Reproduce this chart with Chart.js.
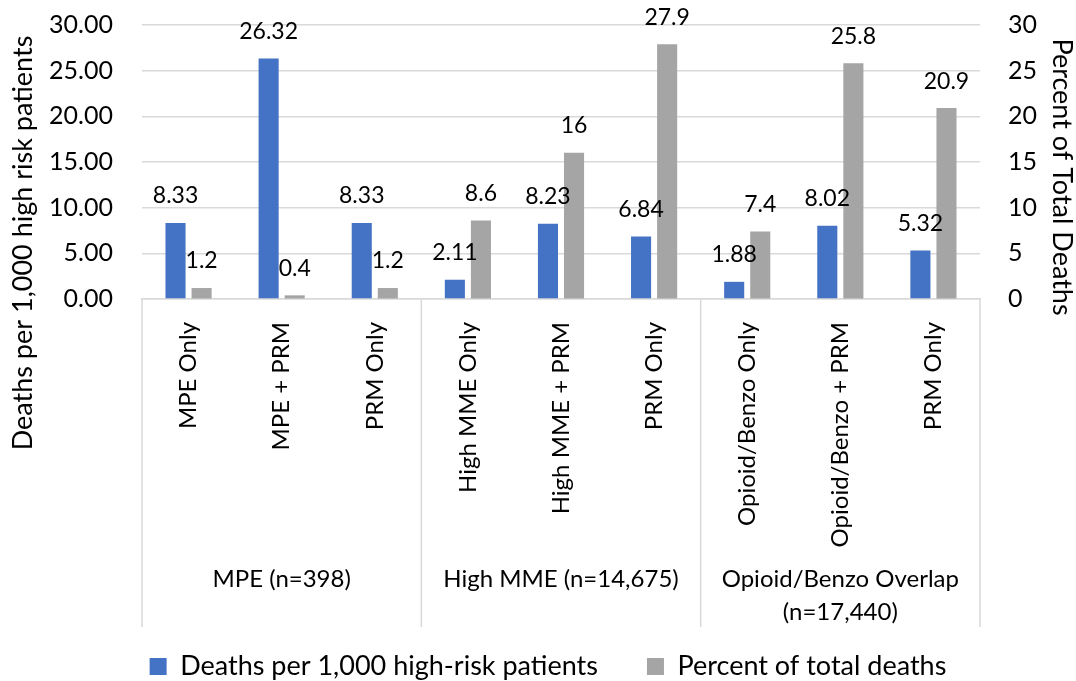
<!DOCTYPE html>
<html><head><meta charset="utf-8">
<script src="https://cdn.jsdelivr.net/npm/chart.js@4.4.1/dist/chart.umd.min.js"></script>
<style>html,body{margin:0;padding:0;background:#fff}#wrap{width:1076px;height:681px}</style>
</head><body><div id="wrap"><canvas id="c" width="1076" height="681"></canvas></div>
<script>
const categories = ['MPE Only','MPE + PRM','PRM Only','High MME Only','High MME + PRM','PRM Only','Opioid/Benzo Only','Opioid/Benzo + PRM','PRM Only'];
const groupLabels = [['MPE (n=398)'],['High MME (n=14,675)'],['Opioid/Benzo Overlap','(n=17,440)']];
const groupSizes = [3,3,3];
const deathsPer1000 = [8.33,26.32,8.33,2.11,8.23,6.84,1.88,8.02,5.32];
const percentOfDeaths = [1.2,0.4,1.2,8.6,16,27.9,7.4,25.8,20.9];
const leftTicks = [0,5,10,15,20,25,30];
const rightTicks = [0,5,10,15,20,25,30];
const leftTitle = 'Deaths per 1,000 high risk patients';
const rightTitle = 'Percent of Total Deaths';

const FONT = 'Lato';
const GRID = '#d9d9d9';
const TITLE_FS = 27, TICK_FS = 25, CAT_FS = 24, LABEL_FS = 23;

const valueLabels = {
  id: 'valueLabels',
  afterDatasetsDraw(chart) {
    const ctx = chart.ctx;
    ctx.save();
    ctx.font = LABEL_FS + 'px ' + FONT;
    ctx.fillStyle = '#000';
    ctx.textAlign = 'center';
    ctx.textBaseline = 'middle';
    chart.data.datasets.forEach((ds, di) => {
      const meta = chart.getDatasetMeta(di);
      meta.data.forEach((el, i) => {
        const v = ds.data[i];
        const txt = di === 0 ? v.toFixed(2) : String(v);
        ctx.fillText(txt, el.x, el.y - 27);
      });
    });
    ctx.restore();
  }
};

const groupAxis = {
  id: 'groupAxis',
  afterDraw(chart) {
    const ctx = chart.ctx;
    const xs = chart.scales.x;
    const top = xs.top;
    const bottom = top + 328;
    ctx.save();
    ctx.strokeStyle = GRID;
    ctx.lineWidth = 1.5;
    let idx = 0;
    const bounds = [xs.getPixelForValue(-0.5)];
    groupSizes.forEach(n => { idx += n; bounds.push(xs.getPixelForValue(idx - 0.5)); });
    bounds.forEach(b => {
      ctx.beginPath(); ctx.moveTo(b, top); ctx.lineTo(b, bottom); ctx.stroke();
    });
    ctx.font = CAT_FS + 'px ' + FONT;
    ctx.fillStyle = '#000';
    ctx.textAlign = 'center';
    ctx.textBaseline = 'middle';
    groupLabels.forEach((lines, g) => {
      const cx = (bounds[g] + bounds[g + 1]) / 2;
      lines.forEach((ln, k) => ctx.fillText(ln, cx, top + 280 + k * 33));
    });
    ctx.font = TITLE_FS + 'px ' + FONT;
    ctx.save();
    ctx.translate(23, 243);
    ctx.rotate(-Math.PI / 2);
    ctx.fillText(leftTitle, 0, 0);
    ctx.restore();
    ctx.save();
    ctx.translate(1062, 177);
    ctx.rotate(Math.PI / 2);
    ctx.fillText(rightTitle, 0, 0);
    ctx.restore();
    ctx.restore();
  }
};

Chart.defaults.font.family = FONT;
Chart.defaults.font.size = TICK_FS;
Chart.defaults.color = '#000';

new Chart(document.getElementById('c'), {
  type: 'bar',
  data: {
    labels: categories,
    datasets: [
      { label: 'Deaths per 1,000 high-risk patients', data: deathsPer1000, backgroundColor: '#4472C4', yAxisID: 'y', categoryPercentage: 0.56, barPercentage: 0.77 },
      { label: 'Percent of total deaths', data: percentOfDeaths, backgroundColor: '#A5A5A5', yAxisID: 'y1', categoryPercentage: 0.56, barPercentage: 0.77 }
    ]
  },
  options: {
    responsive: false,
    animation: false,
    devicePixelRatio: 1,
    layout: { padding: { top: 25, left: 20, right: 0, bottom: 0 } },
    plugins: {
      legend: {
        position: 'bottom',
        maxHeight: 77,
        labels: { boxWidth: 17, boxHeight: 17, padding: 49, font: { size: TITLE_FS, family: FONT }, color: '#000' }
      },
      tooltip: { enabled: false }
    },
    scales: {
      x: {
        grid: { display: false },
        border: { display: true, color: GRID, width: 1.5 },
        ticks: { autoSkip: false, minRotation: 90, maxRotation: 90, padding: 15, font: { size: CAT_FS } },
        afterFit(s) { s.height = 305; }
      },
      y: {
        position: 'left',
        min: 0, max: 30,
        afterBuildTicks(s) { s.ticks = leftTicks.map(v => ({ value: v })); },
        ticks: { padding: 3, font: { size: TICK_FS }, callback: v => Number(v).toFixed(2) },
        grid: { color: GRID, lineWidth: 1.5, drawTicks: true, tickLength: 26, tickColor: 'rgba(0,0,0,0)' },
        border: { display: false },
        afterFit(s) { s.width = 122; }
      },
      y1: {
        position: 'right',
        min: 0, max: 30,
        afterBuildTicks(s) { s.ticks = rightTicks.map(v => ({ value: v })); },
        ticks: { padding: 3, font: { size: TICK_FS }, callback: v => String(v) },
        grid: { drawOnChartArea: false, drawTicks: true, tickLength: 25, tickColor: 'rgba(0,0,0,0)' },
        border: { display: false },
        afterFit(s) { s.width = 96; }
      }
    }
  },
  plugins: [valueLabels, groupAxis]
});
</script>
</body></html>
